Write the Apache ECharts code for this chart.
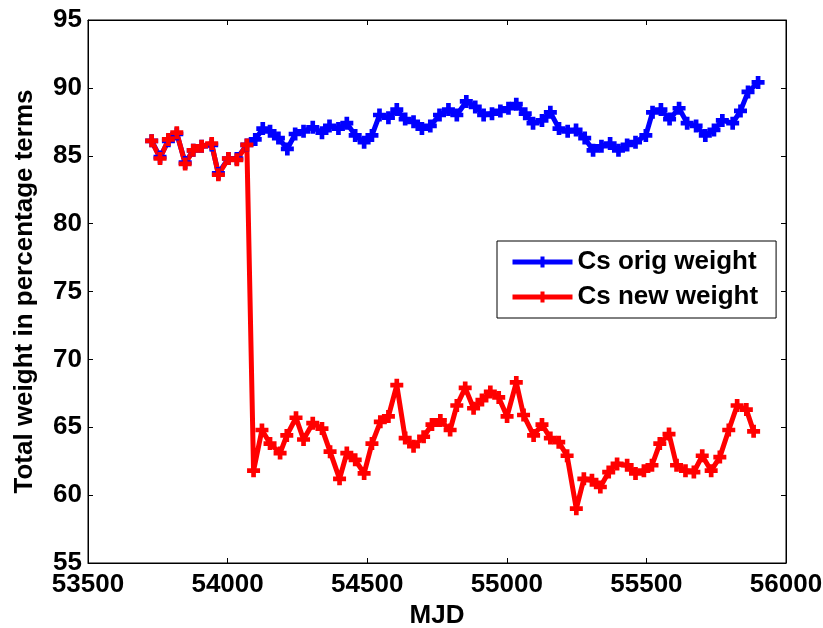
<!DOCTYPE html>
<html>
<head>
	<meta charset="utf-8">
	<title>Cs weight</title>
	<style type="text/css">
		body{
			margin: 0px;
			background: #fff;
		}
		.chart{
			width: 823px;
			height: 628px;
		}
	</style>
	<script type="text/javascript" src="https://cdn.jsdelivr.net/npm/echarts@6/dist/echarts.min.js"></script>
</head>
<body>
	<div id="chart" class="chart"></div>
	<script type="text/javascript">
		// values
		var origMjd = [53728, 53758, 53788, 53818, 53848, 53877, 53907, 53943, 53967, 54003, 54033, 54069,
			54099, 54126, 54152, 54182, 54214, 54242, 54272, 54305, 54338, 54365, 54397, 54427,
			54457, 54489, 54517, 54544, 54576, 54606, 54636, 54666, 54696, 54726, 54759, 54791,
			54821, 54855, 54887, 54917, 54947, 54977, 55006, 55034, 55066, 55094, 55126, 55156,
			55187, 55218, 55248, 55279, 55309, 55339, 55370, 55400, 55431, 55461, 55498, 55522,
			55552, 55583, 55617, 55646, 55678, 55711, 55742, 55772, 55809, 55837, 55864, 55900];
		var origWeight = [86.1, 84.9, 86.1, 86.6, 84.5, 85.4, 85.7, 85.8, 83.7, 84.8, 84.8, 85.8,
			86.2, 87.0, 86.8, 86.3, 85.5, 86.6, 86.8, 87.1, 86.7, 87.2, 87.0, 87.4,
			86.5, 86.0, 86.5, 88.0, 87.8, 88.4, 87.7, 87.5, 87.0, 87.2, 88.0, 88.4,
			88.0, 89.0, 88.6, 88.0, 88.1, 88.3, 88.5, 88.8, 88.1, 87.4, 87.6, 88.2,
			87.0, 86.8, 86.9, 86.3, 85.4, 85.7, 85.9, 85.4, 85.8, 86.0, 86.5, 88.2,
			88.4, 87.7, 88.5, 87.4, 87.2, 86.5, 86.9, 87.6, 87.4, 88.3, 89.7, 90.4];

		var newMjd = [53728, 53758, 53788, 53818, 53848, 53877, 53907, 53943, 53967, 54003, 54033, 54069,
			54093, 54123, 54152, 54188, 54212, 54245, 54272, 54305, 54338, 54367, 54401, 54427,
			54457, 54489, 54517, 54547, 54576, 54606, 54636, 54666, 54702, 54732, 54762, 54797,
			54821, 54851, 54881, 54911, 54941, 54971, 55001, 55034, 55060, 55096, 55126, 55156,
			55186, 55216, 55249, 55276, 55305, 55335, 55365, 55395, 55431, 55461, 55491, 55520,
			55548, 55581, 55608, 55640, 55670, 55700, 55732, 55763, 55795, 55825, 55858, 55884];
		var newWeight = [86.1, 84.8, 86.2, 86.7, 84.4, 85.4, 85.7, 85.9, 83.6, 84.8, 84.7, 85.8,
			61.8, 64.8, 63.8, 63.1, 64.4, 65.7, 64.1, 65.3, 64.9, 63.2, 61.2, 63.1,
			62.6, 61.6, 63.8, 65.4, 65.8, 68.1, 64.2, 63.6, 64.3, 65.2, 65.5, 64.8,
			66.6, 67.9, 66.4, 67.0, 67.6, 67.2, 65.8, 68.3, 65.9, 64.4, 65.2, 64.2,
			63.9, 62.9, 59.0, 61.2, 61.1, 60.6, 61.7, 62.3, 62.2, 61.6, 61.8, 62.2,
			63.8, 64.5, 62.2, 61.8, 61.7, 62.9, 61.8, 62.8, 64.8, 66.6, 66.3, 64.7];

		var xTicks = {min: 53500, max: 56000, step: 500};
		var yTicks = {min: 55, max: 95, step: 5};

		function pairs(xs, ys){
			var out = [];
			for(var i = 0; i < xs.length; i++){
				out.push([xs[i], ys[i]]);
			}
			return out;
		}
		function plain(v){
			return String(v);
		}

		var plus = 'path://M3.2,0h3.6v3.2h3.2v3.6h-3.2v3.2h-3.6v-3.2h-3.2v-3.6h3.2z';
		var font = '"Liberation Sans", Arial, sans-serif';
		var big = 26;

		var chart = echarts.init(document.getElementById('chart'));
		chart.setOption({
			backgroundColor: '#fff',
			animation: false,
			textStyle: {
				fontFamily: font
			},
			grid: {
				left: 88,
				right: 37,
				top: 20,
				bottom: 65,
				outerBoundsMode: 'none',
				containLabel: false,
				show: true,
				borderColor: '#000',
				borderWidth: 1
			},
			legend: {
				orient: 'vertical',
				left: 497,
				top: 241,
				padding: [8, 18, 8, 13],
				itemGap: 9,
				itemWidth: 60,
				itemHeight: 14,
				backgroundColor: '#fff',
				borderColor: '#000',
				borderWidth: 1,
				borderRadius: 0,
				lineStyle: {width: 5},
				textStyle: {
					fontSize: big,
					fontWeight: 'bold',
					color: '#000',
					fontFamily: font
				},
				data: ['Cs orig weight', 'Cs new weight']
			},
			xAxis: [{
				type: 'value',
				min: xTicks.min,
				max: xTicks.max,
				interval: xTicks.step,
				name: 'MJD',
				nameLocation: 'middle',
				nameGap: 34,
				nameTextStyle: {
					fontSize: big,
					fontWeight: 'bold',
					color: '#000'
				},
				axisLine: {
					onZero: false,
					lineStyle: {color: '#000'}
				},
				axisTick: {
					inside: true,
					length: 5,
					lineStyle: {color: '#000'}
				},
				axisLabel: {
					fontSize: big,
					fontWeight: 'bold',
					color: '#000',
					margin: 9,
					formatter: plain
				},
				splitLine: {show: false}
			}, {
				type: 'value',
				position: 'top',
				min: xTicks.min,
				max: xTicks.max,
				interval: xTicks.step,
				axisLine: {lineStyle: {color: '#000'}},
				axisTick: {inside: true, length: 5, lineStyle: {color: '#000'}},
				axisLabel: {show: false},
				splitLine: {show: false}
			}],
			yAxis: [{
				type: 'value',
				min: yTicks.min,
				max: yTicks.max,
				interval: yTicks.step,
				name: 'Total weight in percentage terms',
				nameLocation: 'middle',
				nameGap: 50,
				nameTextStyle: {
					fontSize: big,
					fontWeight: 'bold',
					color: '#000'
				},
				axisLine: {
					show: true,
					lineStyle: {color: '#000'}
				},
				axisTick: {
					show: true,
					inside: true,
					length: 5,
					lineStyle: {color: '#000'}
				},
				axisLabel: {
					fontSize: big,
					fontWeight: 'bold',
					color: '#000',
					margin: 6,
					formatter: plain
				},
				splitLine: {show: false}
			}, {
				type: 'value',
				position: 'right',
				min: yTicks.min,
				max: yTicks.max,
				interval: yTicks.step,
				axisLine: {show: true, lineStyle: {color: '#000'}},
				axisTick: {show: true, inside: true, length: 5, lineStyle: {color: '#000'}},
				axisLabel: {show: false},
				splitLine: {show: false}
			}],
			series: [{
				name: 'Cs orig weight',
				type: 'line',
				data: pairs(origMjd, origWeight),
				color: '#0000ff',
				symbol: plus,
				symbolSize: 13,
				showAllSymbol: true,
				lineStyle: {width: 5, color: '#0000ff'},
				itemStyle: {color: '#0000ff', borderWidth: 0}
			}, {
				name: 'Cs new weight',
				type: 'line',
				data: pairs(newMjd, newWeight),
				color: '#ff0000',
				symbol: plus,
				symbolSize: 13,
				showAllSymbol: true,
				lineStyle: {width: 5, color: '#ff0000'},
				itemStyle: {color: '#ff0000', borderWidth: 0}
			}]
		});
	</script>
</body>
</html>
